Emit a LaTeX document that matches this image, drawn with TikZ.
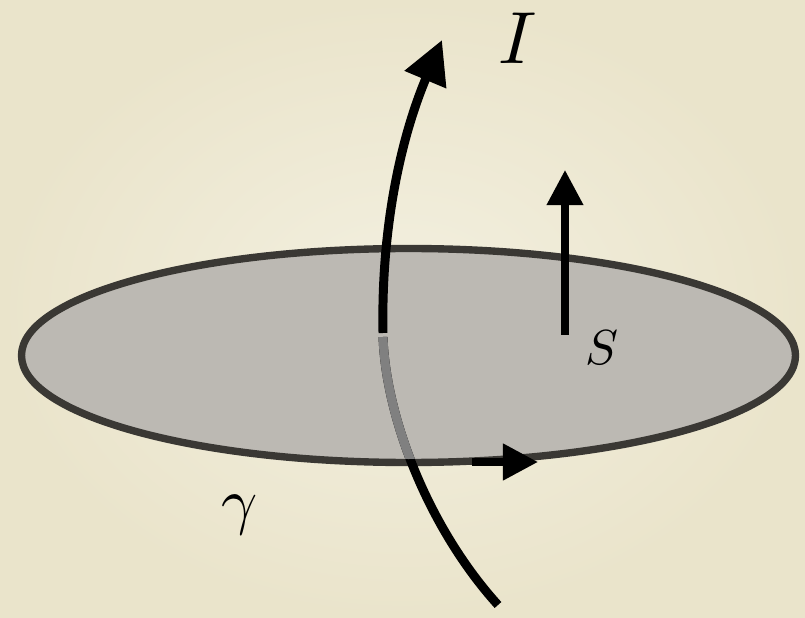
\documentclass[tikz,border=0pt]{standalone}
\usepackage{graphicx}
\usetikzlibrary{arrows.meta}
\definecolor{paperlight}{HTML}{F3F0E0}
\definecolor{paperdark}{HTML}{EAE4CB}
\definecolor{discfill}{HTML}{BCB9B3}
\definecolor{discedge}{HTML}{3A3834}
\definecolor{wirehidden}{HTML}{808080}
\tikzset{
  disc/.style={fill=discfill, draw=discedge, line width=4.2pt},
  wire/.style={line width=5.1pt, black},
  wirehid/.style={wire, draw=wirehidden},
  vecarrow/.style={line width=4pt, -{Triangle[length=20pt, width=20pt]}},
  symlabel/.style={inner sep=0pt},
}

\begin{document}
\begin{tikzpicture}[x=0.02cm, y=-0.02cm]
    \useasboundingbox (0,0) rectangle (805,618);
    \shade[inner color=paperlight, outer color=paperdark] (0,0) rectangle (805,618);
    \draw[disc] (408.5,355.5) ellipse [x radius=387, y radius=107];
    % current wire
    \coordinate (Ibot) at (498,605);
    \coordinate (Igap) at (383,337);
    \coordinate (Iend) at (383,333);
    \coordinate (Itop) at (442,40);
    \draw[wire] (Igap) .. controls (386,420) and (430,530) .. (Ibot);
    \begin{scope}
      \clip (408.5,355.5) ellipse [x radius=383.5, y radius=103.5];
      \draw[wirehid] (Igap) .. controls (386,420) and (430,530) .. (Ibot);
    \end{scope}
    \draw[wire, -{Triangle[length=24.5pt, width=24.5pt]}] (Iend) .. controls (381,230) and (400,140) .. (Itop);
    % normal and orientation
    \coordinate (Sfoot) at (565,335);
    \coordinate (Shead) at (565,170);
    \draw[vecarrow] (Sfoot) -- (Shead);
    \coordinate (gfoot) at (472,462);
    \coordinate (ghead) at (538,462);
    \draw[vecarrow, line width=4.3pt] (gfoot) -- (ghead);
    \node[symlabel] (Ilabel) at (518,38) {\scalebox{4.2}{$I$}};
    \node[symlabel] (Slabel) at (602,348) {\scalebox{2.8}{$S$}};
    \node[symlabel] (gammalabel) at (240,515) {\scalebox{3.6}{$\gamma$}};
\end{tikzpicture}
\end{document}
